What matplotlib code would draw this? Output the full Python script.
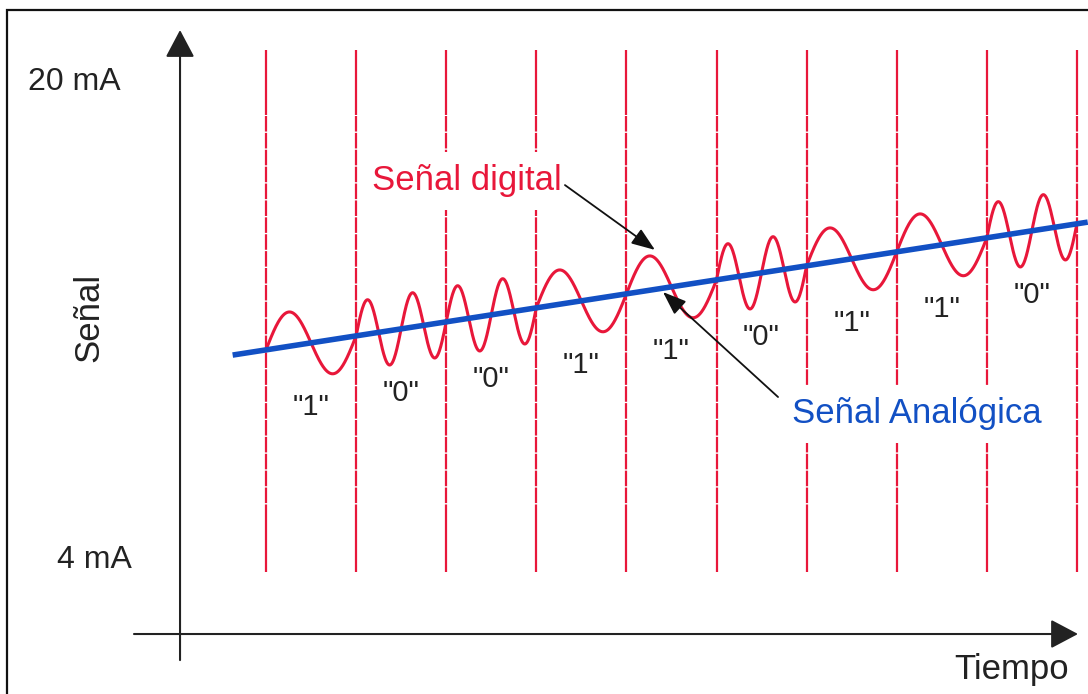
import numpy as np
import matplotlib
matplotlib.use("Agg")
import matplotlib.pyplot as plt
from matplotlib.patches import Rectangle

plt.rcParams['font.family'] = ['Liberation Sans', 'DejaVu Sans']

# data: bit sequence carried on the 4-20 mA loop
bits = ['1', '0', '0', '1', '1', '0', '1', '1', '0']
cycles_per_bit = {'1': 1, '0': 2}          # 1200 Hz vs 2200 Hz
analog_t = [-0.37, 9.12]                   # time (bit periods)
analog_mA = [10.86, 15.31]                 # analog current (mA)
wave_amp = 1.15                            # mA
range_values = [20, 4]
range_labels = ['20 mA', '4 mA']

RED = '#e8173a'
BLUE = '#1250c4'
DARK = '#222222'

fig = plt.figure(figsize=(10.88, 6.94), dpi=100)
ax = fig.add_axes([0, 0, 1, 1])
ax.set_xlim(-2.952, 9.123)
ax.set_ylim(-0.485, 22.745)
ax.axis('off')

# outer frame
fig.add_artist(Rectangle((7 / 1088, -0.2), 1.5, 1.2 - 10 / 694, transform=fig.transFigure,
                         fill=False, lw=1.6, ec='#111111'))

# axes arrows
ax.annotate('', xy=(-0.954, 21.74), xytext=(-0.954, 0.65),
            arrowprops=dict(arrowstyle='-|>,head_length=0.85,head_width=0.45',
                            mutation_scale=20, lw=1.5, color=DARK, shrinkA=0, shrinkB=0))
ax.annotate('', xy=(9.012, 1.523), xytext=(-1.465, 1.523),
            arrowprops=dict(arrowstyle='-|>,head_length=0.85,head_width=0.45',
                            mutation_scale=20, lw=1.5, color=DARK, shrinkA=0, shrinkB=0))

# bit boundaries
edges = np.arange(len(bits) + 1)
ax.vlines(edges, 18.9, 21.07, color=RED, lw=1.6, zorder=1)
ax.vlines(edges, 5.34, 18.9, color=RED, lw=1.6, linestyles=(0, (7, 0.6)), zorder=1)
ax.vlines(edges, 3.6, 5.34, color=RED, lw=1.6, zorder=1)

# analog signal
ax.plot(analog_t, analog_mA, color=BLUE, lw=4, solid_capstyle='butt', zorder=4)

# digital FSK signal riding on top
for i, b in enumerate(bits):
    t = np.linspace(i, i + 1, 200)
    base = np.interp(t, analog_t, analog_mA)
    ax.plot(t, base + wave_amp * np.sin(2 * np.pi * cycles_per_bit[b] * (t - i)),
            color=RED, lw=2.2, zorder=3)
    tc = i + 0.5
    ax.text(tc, np.interp(tc, analog_t, analog_mA) - 2.15, f'"{b}"', ha='center', va='center',
            fontsize=21, color=DARK, zorder=5)

# range labels
ax.text(-2.64, range_values[0], range_labels[0], ha='left', va='center', fontsize=23, color=DARK)
ax.text(-2.32, range_values[1], range_labels[1], ha='left', va='center', fontsize=23, color=DARK)

ax.text(-1.964, 12.13, 'Señal', rotation=90, ha='center', va='center', fontsize=25, color=DARK)
ax.text(8.27, 0.32, 'Tiempo', ha='center', va='center', fontsize=25, color=DARK)

box = dict(boxstyle='square,pad=0.35', fc='white', ec='none')
ax.text(1.176, 16.69, 'Señal digital', ha='left', va='center', fontsize=25, color=RED,
        bbox=box, zorder=6)
ax.text(5.838, 8.89, 'Señal Analógica', ha='left', va='center', fontsize=25, color=BLUE,
        bbox=box, zorder=6)

# pointers
ax.annotate('', xy=(4.317, 14.38), xytext=(3.318, 16.55),
            arrowprops=dict(arrowstyle='-|>,head_length=0.8,head_width=0.3',
                            mutation_scale=18, lw=1.3, color='#111111', shrinkA=0, shrinkB=0),
            zorder=7)
ax.annotate('', xy=(4.406, 12.97), xytext=(5.683, 9.456),
            arrowprops=dict(arrowstyle='-|>,head_length=0.8,head_width=0.3',
                            mutation_scale=18, lw=1.3, color='#111111', shrinkA=0, shrinkB=0),
            zorder=7)

fig.savefig('out.png', dpi=100)
